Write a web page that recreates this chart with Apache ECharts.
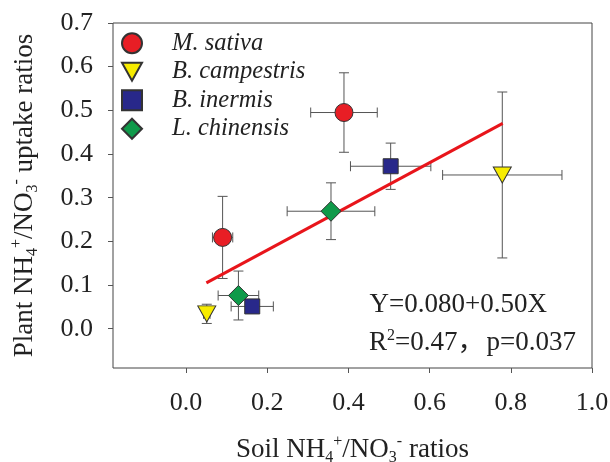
<!DOCTYPE html>
<html>
<head>
<meta charset="utf-8">
<script src="https://cdn.jsdelivr.net/npm/echarts@6/dist/echarts.min.js"></script>
<style>html,body{margin:0;padding:0;background:#fff}#c{width:610px;height:462px}</style>
</head>
<body>
<div id="c"></div>
<script>
const categories = ['M. sativa', 'B. campestris', 'B. inermis', 'L. chinensis'];
const xTicks = [0.0, 0.2, 0.4, 0.6, 0.8, 1.0];
const yTicks = [0.0, 0.1, 0.2, 0.3, 0.4, 0.5, 0.6, 0.7];

const sativaX = [0.090, 0.389];
const sativaY = [0.209, 0.495];
const sativaXErr = [0.025, 0.082];
const sativaYErr = [0.094, 0.091];

const campestrisX = [0.051, 0.779];
const campestrisY = [0.034, 0.352];
const campestrisXErr = [0.008, 0.147];
const campestrisYErr = [0.022, 0.190];

const inermisX = [0.163, 0.504];
const inermisY = [0.051, 0.372];
const inermisXErr = [0.052, 0.099];
const inermisYErr = [0.015, 0.053];

const chinensisX = [0.129, 0.357];
const chinensisY = [0.076, 0.269];
const chinensisXErr = [0.050, 0.108];
const chinensisYErr = [0.056, 0.065];

const fitX = [0.05, 0.78];
const fitY = [0.105, 0.470];

const FONT = "'Liberation Serif', 'Noto Sans CJK SC', serif";
const TXT = '#222';
const AX = '#555';

function pts(xs, ys) { return xs.map((x, i) => [x, ys[i]]); }
function errs(xs, ys, xe, ye) { return xs.map((x, i) => [x, ys[i], xe[i], ye[i]]); }

const errData = [].concat(
  errs(sativaX, sativaY, sativaXErr, sativaYErr),
  errs(campestrisX, campestrisY, campestrisXErr, campestrisYErr),
  errs(inermisX, inermisY, inermisXErr, inermisYErr),
  errs(chinensisX, chinensisY, chinensisXErr, chinensisYErr)
);

const richName = {
  a: { fontFamily: FONT, fontSize: 27, color: TXT, lineHeight: 32 },
  sub: { fontFamily: FONT, fontSize: 16, color: TXT, lineHeight: 13, verticalAlign: 'bottom' },
  sup: { fontFamily: FONT, fontSize: 16, color: TXT, lineHeight: 13, verticalAlign: 'top' }
};

const chart = echarts.init(document.getElementById('c'), null, { renderer: 'canvas' });
const cap = 5;
chart.setOption({
  animation: false,
  backgroundColor: '#fff',
  grid: { left: 113, top: 23, right: 18, bottom: 94, show: true, borderColor: '#444', borderWidth: 1, backgroundColor: 'transparent', outerBoundsMode: 'none', containLabel: false },
  legend: {
    orient: 'vertical', left: 116, top: 26, itemGap: 4, itemWidth: 20, itemHeight: 20,
    data: categories,
    textStyle: { fontFamily: FONT, fontSize: 24.5, fontStyle: 'italic', color: TXT, padding: [0, 0, 0, 25] }
  },
  xAxis: {
    type: 'value', min: -0.18, max: 1.0,
    name: '{a|Soil NH}{sub|4}{sup|+}{a|/NO}{sub|3}{sup|-}{a| ratios}',
    nameLocation: 'middle', nameGap: 66,
    nameTextStyle: { rich: richName },
    axisLine: { show: false, onZero: false },
    axisTick: { show: true, inside: false, length: 5, lineStyle: { color: AX }, customValues: xTicks },
    axisLabel: { customValues: xTicks, formatter: v => v.toFixed(1), fontFamily: FONT, fontSize: 26, color: TXT, margin: 22 },
    splitLine: { show: false }
  },
  yAxis: {
    type: 'value', min: -0.09, max: 0.7,
    name: '{a|Plant NH}{sub|4}{sup|+}{a|/NO}{sub|3}{sup|-}{a| uptake ratios}',
    nameLocation: 'middle', nameGap: 72, nameRotate: 90,
    nameTextStyle: { rich: richName },
    axisLine: { show: false, onZero: false },
    axisTick: { show: true, inside: false, length: 5, lineStyle: { color: AX }, customValues: yTicks },
    axisLabel: { customValues: yTicks, formatter: v => v.toFixed(1), fontFamily: FONT, fontSize: 26, color: TXT, margin: 20 },
    splitLine: { show: false }
  },
  series: [
    {
      type: 'custom', name: 'err', z: 1, silent: true,
      data: errData,
      encode: { x: 0, y: 1 },
      renderItem: function (params, api) {
        const x = api.value(0), y = api.value(1), xe = api.value(2), ye = api.value(3);
        const c = api.coord([x, y]);
        const l = api.coord([x - xe, y]), r = api.coord([x + xe, y]);
        const t = api.coord([x, y + ye]), b = api.coord([x, y - ye]);
        const st = { stroke: AX, lineWidth: 1 };
        return {
          type: 'group', children: [
            { type: 'line', shape: { x1: l[0], y1: c[1], x2: r[0], y2: c[1] }, style: st },
            { type: 'line', shape: { x1: c[0], y1: t[1], x2: c[0], y2: b[1] }, style: st },
            { type: 'line', shape: { x1: l[0], y1: c[1] - cap, x2: l[0], y2: c[1] + cap }, style: st },
            { type: 'line', shape: { x1: r[0], y1: c[1] - cap, x2: r[0], y2: c[1] + cap }, style: st },
            { type: 'line', shape: { x1: c[0] - cap, y1: t[1], x2: c[0] + cap, y2: t[1] }, style: st },
            { type: 'line', shape: { x1: c[0] - cap, y1: b[1], x2: c[0] + cap, y2: b[1] }, style: st }
          ]
        };
      }
    },
    {
      type: 'line', name: 'fit', z: 2, data: pts(fitX, fitY), symbol: 'none',
      lineStyle: { color: '#e8151b', width: 3 }, silent: true
    },
    {
      type: 'scatter', name: categories[0], z: 3, data: pts(sativaX, sativaY),
      symbol: 'circle', symbolSize: 18,
      itemStyle: { color: '#e81e25', borderColor: '#333', borderWidth: 1, opacity: 1 }
    },
    {
      type: 'scatter', name: categories[1], z: 3, data: pts(campestrisX, campestrisY),
      symbol: 'path://M0,0 L20,0 L10,18 Z', symbolSize: [18, 16],
      itemStyle: { color: '#f7ec00', borderColor: '#333', borderWidth: 1, opacity: 1 }
    },
    {
      type: 'scatter', name: categories[2], z: 3, data: pts(inermisX, inermisY),
      symbol: 'rect', symbolSize: 15,
      itemStyle: { color: '#28288a', borderColor: '#333', borderWidth: 1, opacity: 1 }
    },
    {
      type: 'scatter', name: categories[3], z: 3, data: pts(chinensisX, chinensisY),
      symbol: 'diamond', symbolSize: 20,
      itemStyle: { color: '#0f9a4a', borderColor: '#333', borderWidth: 1, opacity: 1 }
    }
  ],
  graphic: [
    {
      type: 'text', z: 10,
      style: { x: 547, y: 305, text: 'Y=0.080+0.50X', textAlign: 'right', textVerticalAlign: 'middle', fontFamily: FONT, fontSize: 27, fill: TXT }
    },
    {
      type: 'text', z: 10,
      style: {
        x: 576, y: 343, textAlign: 'right', textVerticalAlign: 'middle',
        text: '{a|R}{sup|2}{a|=0.47，}{b|p=0.037}',
        rich: {
          a: { fontFamily: FONT, fontSize: 27, fill: TXT, lineHeight: 30 },
          b: { fontFamily: FONT, fontSize: 27, fill: TXT, lineHeight: 30, padding: [0, 0, 0, 2] },
          sup: { fontFamily: FONT, fontSize: 16, fill: TXT, lineHeight: 13, verticalAlign: 'top' }
        }
      }
    }
  ]
});
</script>
</body>
</html>
